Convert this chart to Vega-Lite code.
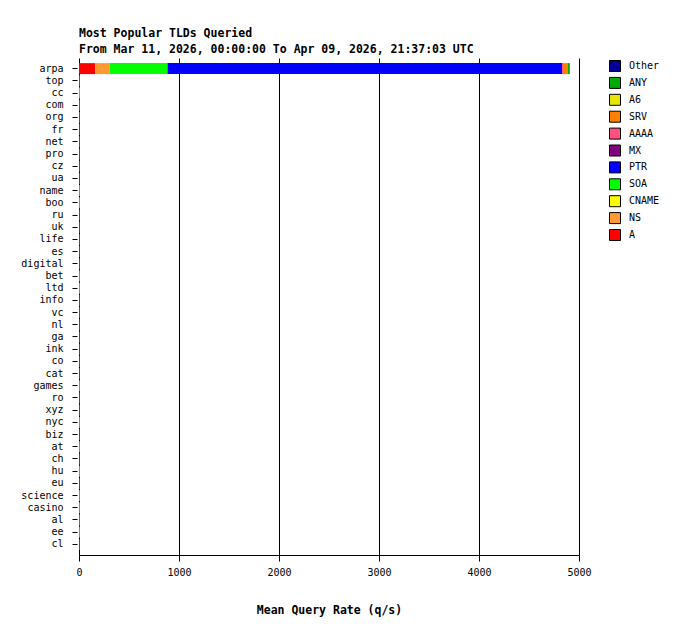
{
  "$schema": "https://vega.github.io/schema/vega-lite/v6.json",
  "width": 500,
  "height": 497,
  "autosize": {"type": "none"},
  "padding": {"left": 79, "top": 58, "right": 102, "bottom": 80},
  "background": "white",
  "title": {
    "text": "Most Popular TLDs Queried",
    "subtitle": "From Mar 11, 2026, 00:00:00 To Apr 09, 2026, 21:37:03 UTC",
    "anchor": "start",
    "frame": "group",
    "font": "DejaVu Sans Mono",
    "fontSize": 11.5,
    "fontWeight": "bold",
    "color": "black",
    "subtitleFont": "DejaVu Sans Mono",
    "subtitleFontSize": 11.5,
    "subtitleFontWeight": "bold",
    "subtitleColor": "black",
    "subtitlePadding": 4,
    "offset": 3
  },
  "datasets": {
    "qtypes": [
      {"qtype": "A", "seq": 1},
      {"qtype": "NS", "seq": 2},
      {"qtype": "CNAME", "seq": 3},
      {"qtype": "SOA", "seq": 4},
      {"qtype": "PTR", "seq": 5},
      {"qtype": "MX", "seq": 6},
      {"qtype": "AAAA", "seq": 7},
      {"qtype": "SRV", "seq": 8},
      {"qtype": "A6", "seq": 9},
      {"qtype": "ANY", "seq": 10},
      {"qtype": "Other", "seq": 11}
    ]
  },
  "data": {
    "values": [
      {"tld": "arpa", "qtype": "A", "rate": 162},
      {"tld": "arpa", "qtype": "NS", "rate": 142},
      {"tld": "arpa", "qtype": "SOA", "rate": 581},
      {"tld": "arpa", "qtype": "PTR", "rate": 3945},
      {"tld": "arpa", "qtype": "AAAA", "rate": 10},
      {"tld": "arpa", "qtype": "SRV", "rate": 46},
      {"tld": "arpa", "qtype": "ANY", "rate": 22},
      {"tld": "top", "qtype": "ANY", "rate": 9},
      {"tld": "cc", "qtype": "NS", "rate": 9},
      {"tld": "com", "qtype": "ANY", "rate": 9},
      {"tld": "org", "qtype": "ANY", "rate": 9},
      {"tld": "fr", "qtype": "ANY", "rate": 8},
      {"tld": "net", "qtype": "ANY", "rate": 8},
      {"tld": "pro", "qtype": "ANY", "rate": 8},
      {"tld": "cz", "qtype": "ANY", "rate": 8},
      {"tld": "ua", "qtype": "ANY", "rate": 8},
      {"tld": "name", "qtype": "NS", "rate": 8},
      {"tld": "boo", "qtype": "NS", "rate": 8},
      {"tld": "ru", "qtype": "ANY", "rate": 8},
      {"tld": "uk", "qtype": "ANY", "rate": 8},
      {"tld": "life", "qtype": "ANY", "rate": 8},
      {"tld": "es", "qtype": "ANY", "rate": 8},
      {"tld": "digital", "qtype": "ANY", "rate": 8},
      {"tld": "bet", "qtype": "NS", "rate": 8},
      {"tld": "ltd", "qtype": "NS", "rate": 8},
      {"tld": "info", "qtype": "ANY", "rate": 8},
      {"tld": "vc", "qtype": "ANY", "rate": 8},
      {"tld": "nl", "qtype": "ANY", "rate": 8},
      {"tld": "ga", "qtype": "ANY", "rate": 8},
      {"tld": "ink", "qtype": "ANY", "rate": 8},
      {"tld": "co", "qtype": "ANY", "rate": 8},
      {"tld": "cat", "qtype": "ANY", "rate": 8},
      {"tld": "games", "qtype": "NS", "rate": 8},
      {"tld": "ro", "qtype": "ANY", "rate": 8},
      {"tld": "xyz", "qtype": "ANY", "rate": 8},
      {"tld": "nyc", "qtype": "NS", "rate": 8},
      {"tld": "biz", "qtype": "ANY", "rate": 8},
      {"tld": "at", "qtype": "NS", "rate": 8},
      {"tld": "ch", "qtype": "ANY", "rate": 8},
      {"tld": "hu", "qtype": "NS", "rate": 8},
      {"tld": "eu", "qtype": "ANY", "rate": 8},
      {"tld": "science", "qtype": "NS", "rate": 8},
      {"tld": "casino", "qtype": "NS", "rate": 8},
      {"tld": "al", "qtype": "AAAA", "rate": 8},
      {"tld": "ee", "qtype": "NS", "rate": 8},
      {"tld": "cl", "qtype": "ANY", "rate": 8}
    ]
  },
  "transform": [
    {"lookup": "qtype", "from": {"data": {"name": "qtypes"}, "key": "qtype", "fields": ["seq"]}}
  ],
  "mark": {"type": "bar"},
  "encoding": {
    "y": {
      "field": "tld",
      "type": "nominal",
      "sort": ["arpa","top","cc","com","org","fr","net","pro","cz","ua","name","boo","ru","uk","life","es","digital","bet","ltd","info","vc","nl","ga","ink","co","cat","games","ro","xyz","nyc","biz","at","ch","hu","eu","science","casino","al","ee","cl"],
      "scale": {"paddingInner": 0.1, "paddingOuter": 0.42},
      "axis": {
        "title": null,
        "domain": false,
        "grid": false,
        "ticks": true,
        "tickColor": "black",
        "tickSize": 5,
        "offset": 2,
        "labelFont": "DejaVu Sans Mono",
        "labelFontSize": 10,
        "labelColor": "black",
        "labelPadding": 9
      }
    },
    "x": {
      "field": "rate",
      "type": "quantitative",
      "stack": "zero",
      "scale": {"domain": [0, 5000], "nice": false},
      "axis": {
        "title": "Mean Query Rate (q/s)",
        "titleFont": "DejaVu Sans Mono",
        "titleFontSize": 11.5,
        "titleFontWeight": "bold",
        "titleColor": "black",
        "titlePadding": 27,
        "values": [0, 1000, 2000, 3000, 4000, 5000],
        "format": "d",
        "grid": true,
        "gridColor": "black",
        "gridOpacity": 1,
        "domainColor": "black",
        "tickColor": "black",
        "tickSize": 6,
        "labelFont": "DejaVu Sans Mono",
        "labelFontSize": 10,
        "labelColor": "black",
        "labelPadding": 6,
        "labelFlush": false
      }
    },
    "order": {"field": "seq", "type": "quantitative", "sort": "ascending"},
    "color": {
      "field": "qtype",
      "type": "nominal",
      "scale": {
        "domain": ["Other","ANY","A6","SRV","AAAA","MX","PTR","SOA","CNAME","NS","A"],
        "range": ["#000099","#00AA00","#E6E600","#FF7F00","#FF5080","#800080","#0000FF","#00FF00","#FFFF00","#FF9933","#FF0000"]
      },
      "legend": {
        "title": null,
        "orient": "none",
        "legendX": 530,
        "legendY": 2,
        "symbolType": "square",
        "symbolSize": 121,
        "symbolStrokeColor": "black",
        "symbolStrokeWidth": 1,
        "symbolOpacity": 1,
        "labelFont": "DejaVu Sans Mono",
        "labelFontSize": 10,
        "labelColor": "black",
        "labelOffset": 8,
        "rowPadding": 0.9
      }
    }
  },
  "config": {"view": {"stroke": null}}
}
